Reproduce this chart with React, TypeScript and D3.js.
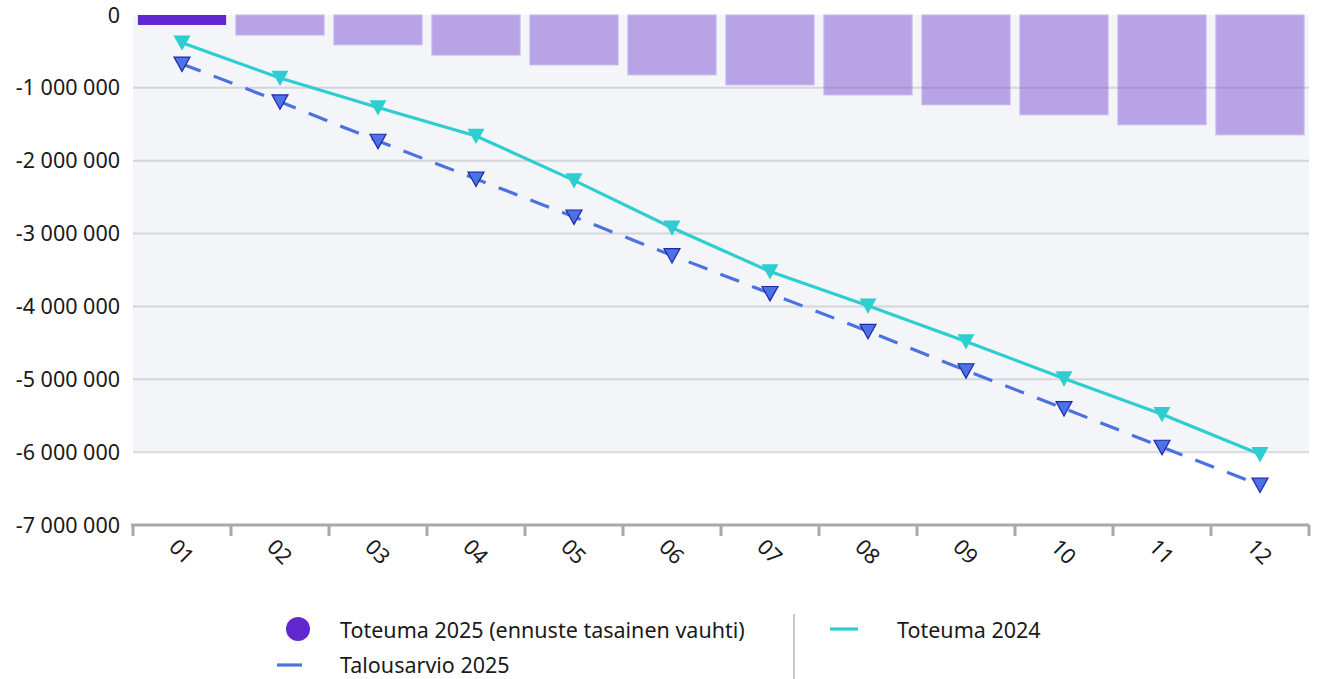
import * as d3 from "d3";

const months = ["01", "02", "03", "04", "05", "06", "07", "08", "09", "10", "11", "12"];
// Toteuma 2025 (ennuste tasainen vauhti) - bars
const forecast2025 = [-137000, -275000, -410000, -550000, -685000, -822000, -960000, -1097000, -1233000, -1370000, -1507000, -1645000];
// month 01 is actual, rest forecast
const actualMonths = ["01"];
const budget2025 = [-671000, -1190000, -1730000, -2250000, -2770000, -3300000, -3820000, -4340000, -4880000, -5400000, -5930000, -6450000];
const actual2024 = [-380000, -865000, -1270000, -1660000, -2270000, -2920000, -3520000, -3990000, -4480000, -4990000, -5480000, -6030000];
const yTicks = [0, -1000000, -2000000, -3000000, -4000000, -5000000, -6000000, -7000000];

const W = 1320, H = 679;
const margin = {top: 15, right: 11, bottom: 154, left: 133};
const font = "'Noto Sans', 'Open Sans', sans-serif";
const fs = 21.5;

const fmt = (v: number) => d3.format(",")(v).replace(/,/g, " ").replace("−", "-");

const tri = (cx: number, cy: number, s: number) =>
    `M${cx - s},${cy - s * 0.85}L${cx + s},${cy - s * 0.85}L${cx},${cy + s * 0.95}Z`;

export default function App() {
    const x = d3.scaleBand().domain(months).range([margin.left, W - margin.right]).paddingInner(0.1).paddingOuter(0.05);
    const y = d3.scaleLinear().domain([-7000000, 0]).range([H - margin.bottom, margin.top]);
    const xb = d3.scaleBand().domain(months).range([margin.left, W - margin.right]);
    const cx = (m: string) => (xb(m) as number) + xb.bandwidth() / 2;

    const line = d3.line<number>().x((d, i) => cx(months[i])).y(d => y(d));

    const x0 = margin.left, x1 = W - margin.right;

    return (
        <svg width={W} height={H} style={{position: "absolute", left: 0, top: 0, fontFamily: font}}>
            <rect x={x0} y={y(0)} width={x1 - x0} height={y(-6000000) - y(0)} fill="#f4f5f9"/>
            {months.map((m, i) => (
                <rect key={m} x={x(m)} width={x.bandwidth()} y={y(0)} height={y(forecast2025[i]) - y(0)}
                      fill={actualMonths.includes(m) ? "#6128d0" : "#b8a3e6"}
                      stroke={actualMonths.includes(m) ? "none" : "#c7b7ee"} strokeWidth={1}/>
            ))}
            {yTicks.slice(1, -1).map(t => (
                <line key={t} x1={x0} x2={x1} y1={y(t)} y2={y(t)} stroke="rgba(120,120,140,0.25)" strokeWidth={2}/>
            ))}
            {yTicks.map(t => (
                <text key={t} x={120} y={y(t)} dy="0.35em" textAnchor="end" fontSize={fs} fill="#1a1a1a">{fmt(t)}</text>
            ))}
            <line x1={x0 - 2} x2={x1} y1={y(-7000000)} y2={y(-7000000)} stroke="#a9a9ad" strokeWidth={3}/>
            {[...months, "end"].map((m, i) => {
                const tx = margin.left + i * xb.bandwidth();
                return <line key={m} x1={tx} x2={tx} y1={y(-7000000)} y2={y(-7000000) + 11} stroke="#a9a9ad" strokeWidth={3}/>;
            })}
            {months.map(m => (
                <text key={m} transform={`translate(${cx(m) - 9},${y(-7000000) + 18}) rotate(45)`}
                      fontSize={fs} fill="#1a1a1a" dy="0.35em">{m}</text>
            ))}
            <path d={line(budget2025) as string} fill="none" stroke="#4c72e0" strokeWidth={3.2} strokeDasharray="20 14"/>
            <path d={line(actual2024) as string} fill="none" stroke="#2ecdd0" strokeWidth={3.2}/>
            {actual2024.map((v, i) => (
                <path key={i} d={tri(cx(months[i]), y(v), 8.5)} fill="#2ecdd0"/>
            ))}
            {budget2025.map((v, i) => (
                <path key={i} d={tri(cx(months[i]), y(v), 8)} fill="#4c72e3" stroke="#1f2aa8" strokeWidth={1.2}/>
            ))}

            <circle cx={298} cy={629} r={12} fill="#6128d0"/>
            <text x={340} y={630} dy="0.35em" fontSize={fs} fill="#1a1a1a">Toteuma 2025 (ennuste tasainen vauhti)</text>
            <line x1={277} x2={302} y1={665} y2={665} stroke="#4c72e0" strokeWidth={3.2}/>
            <text x={340} y={665} dy="0.35em" fontSize={fs} fill="#1a1a1a">Talousarvio 2025</text>
            <line x1={794} x2={794} y1={614} y2={679} stroke="#c8c8c8" strokeWidth={2}/>
            <line x1={830} x2={858} y1={629} y2={629} stroke="#2ecdd0" strokeWidth={3.2}/>
            <text x={897} y={630} dy="0.35em" fontSize={fs} fill="#1a1a1a">Toteuma 2024</text>
        </svg>
    );
}
